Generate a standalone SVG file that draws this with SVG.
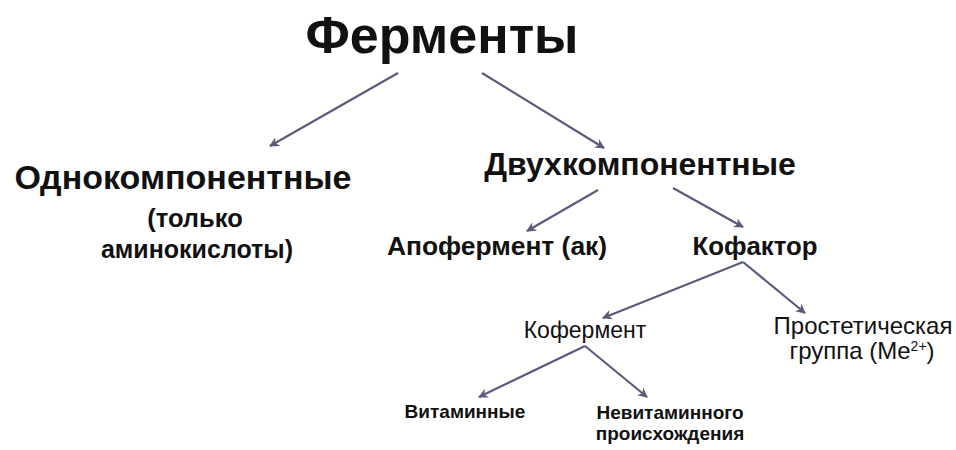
<svg xmlns="http://www.w3.org/2000/svg" width="956" height="450" viewBox="0 0 956 450">
<style>
.t{font-family:"Liberation Sans",Arial,sans-serif;fill:#111;text-anchor:middle}
.b{font-weight:bold}
.c{stroke:#5b5b7a;stroke-width:2.2;fill:none;marker-end:url(#ah)}
</style>
<defs>
<marker id="ah" viewBox="0 0 10 10" refX="9" refY="5" markerWidth="4.5" markerHeight="4.5" orient="auto" markerUnits="strokeWidth">
<path d="M0,0 L10,5 L0,10 L3,5 Z" fill="#5b5b7a"/>
</marker>
</defs>
<rect width="956" height="450" fill="#fff"/>
<g id="connectors">
<line class="c" x1="398" y1="73" x2="270" y2="146"/>
<line class="c" x1="482" y1="73" x2="604" y2="148"/>
<line class="c" x1="598" y1="190" x2="527" y2="231"/>
<line class="c" x1="673" y1="188" x2="743" y2="227"/>
<line class="c" x1="743" y1="262" x2="603" y2="318"/>
<line class="c" x1="743" y1="262" x2="805" y2="313"/>
<line class="c" x1="585" y1="346" x2="479" y2="397"/>
<line class="c" x1="585" y1="346" x2="647" y2="397"/>
</g>
<g id="n-fermenty"><text class="t b" x="442" y="53" font-size="52">Ферменты</text></g>
<g id="n-odno">
<text class="t b" x="183" y="189" font-size="34">Однокомпонентные</text>
<text class="t b" x="195" y="227" font-size="25.5">(только</text>
<text class="t b" x="197" y="258" font-size="25">аминокислоты)</text>
</g>
<g id="n-dvuh"><text class="t b" x="640" y="175" font-size="32">Двухкомпонентные</text></g>
<g id="n-apo"><text class="t b" x="497" y="255" font-size="26.4">Апофермент (ак)</text></g>
<g id="n-kofaktor"><text class="t b" x="755" y="255" font-size="25.8">Кофактор</text></g>
<g id="n-koferment"><text class="t" x="585" y="338" font-size="23">Кофермент</text></g>
<g id="n-prostet">
<text class="t" x="863" y="334" font-size="24">Простетическая</text>
<text class="t" x="862" y="359" font-size="24">группа (Me<tspan font-size="14" dy="-8">2+</tspan><tspan dy="8">)</tspan></text>
</g>
<g id="n-vitamin"><text class="t b" x="465" y="418" font-size="19">Витаминные</text></g>
<g id="n-nevitamin">
<text class="t b" x="670" y="419" font-size="19">Невитаминного</text>
<text class="t b" x="670" y="440" font-size="19">происхождения</text>
</g>
</svg>
